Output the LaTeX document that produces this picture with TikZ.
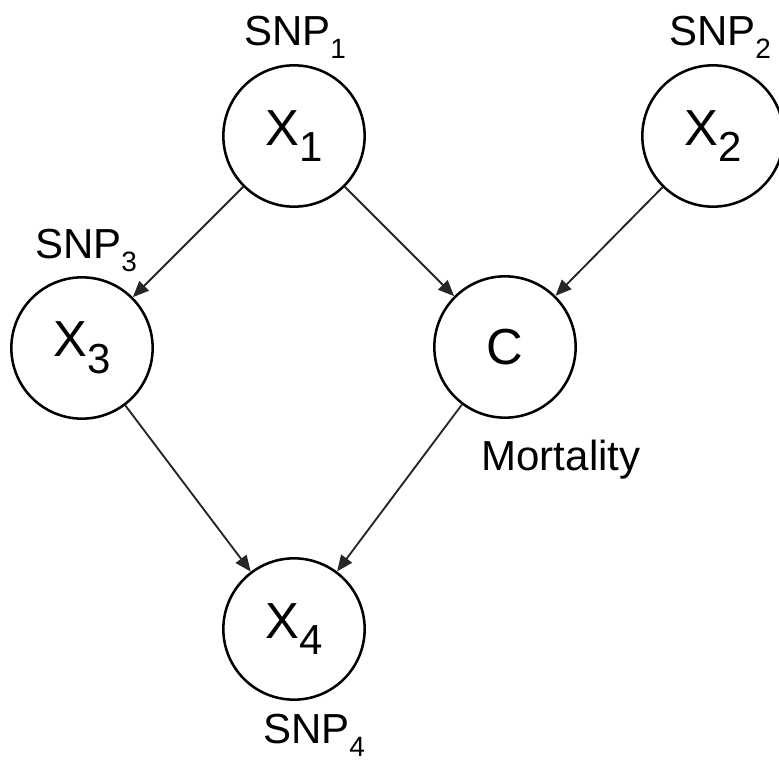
\documentclass[tikz,border=0pt]{standalone}
\usepackage{fontspec}
\setmainfont{Liberation Sans}
\usetikzlibrary{positioning,arrows.meta}
\newcommand{\vsub}[1]{\raisebox{-0.33em}{\fontsize{31.5}{32}\selectfont #1}}
\newcommand{\snpsub}[1]{\raisebox{-0.31em}{\fontsize{21}{22}\selectfont #1}}
\tikzset{
  var/.style={draw,circle,line width=1.9pt,minimum size=106pt,inner sep=0pt,
             font=\fontsize{38}{40}\selectfont},
  tag/.style={anchor=base,inner sep=0pt,font=\fontsize{31.5}{34}\selectfont},
  dep/.style={-{Triangle[length=12pt,width=10pt]},line width=1.4pt,black!85},
}
\begin{document}
\begin{tikzpicture}[x=0.75pt,y=-0.75pt]
  \useasboundingbox (0,0) rectangle (779,761);
  % variables
  \node[var] (x1) at (294,136) {X\vsub{1}};
  \node[var] (x2) at (713,136) {X\vsub{2}};
  \node[var] (x3) at (82,348)  {X\vsub{3}};
  \node[var] (c)  at (505,347) {C};
  \node[var] (x4) at (294,629) {X\vsub{4}};
  % labels
  \node[tag] (l1) at (295,45)  {SNP\snpsub{1}};
  \node[tag] (l2) at (720,45)  {SNP\snpsub{2}};
  \node[tag] (l3) at (86,258)  {SNP\snpsub{3}};
  \node[tag] (l4) at (314,743) {SNP\snpsub{4}};
  \node[tag] (lc) at (561,470) {Mortality};
  % dependencies
  \draw[dep] (x1) -- (x3);
  \draw[dep] (x1) -- (c);
  \draw[dep] (x2) -- (c);
  \draw[dep] (x3) -- (x4);
  \draw[dep] (c) -- (x4);
\end{tikzpicture}
\end{document}
